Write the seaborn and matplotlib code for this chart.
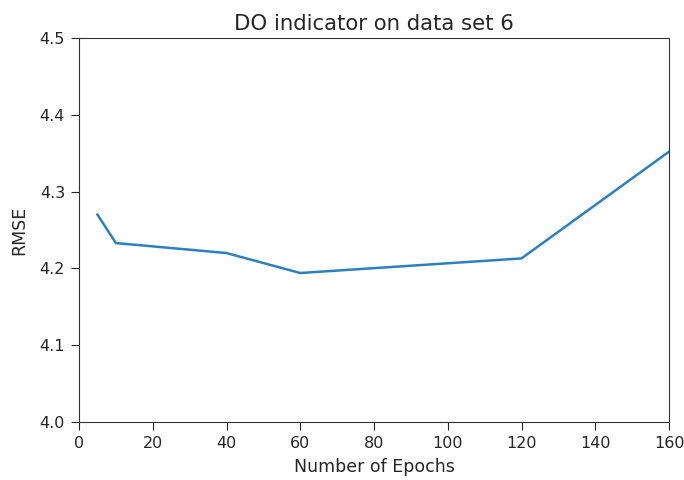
import matplotlib
matplotlib.use("Agg")
import matplotlib.pyplot as plt
import seaborn as sns
import pandas as pd

epochs = [5, 10, 40, 60, 120, 160]
rmse = [4.270, 4.233, 4.220, 4.194, 4.213, 4.352]

df = pd.DataFrame({"epochs": epochs, "rmse": rmse})

text_color = "#262626"
fig = plt.figure(figsize=(6.84, 4.8), dpi=100)
ax = fig.add_axes([79/684, 1-422/480, (669-79)/684, (422-38)/480])
sns.lineplot(data=df, x="epochs", y="rmse", ax=ax, color="#2b80be", linewidth=1.8)
ax.set_xlim(0, 160)
ax.set_ylim(4.0, 4.5)
ax.set_xticks([0, 20, 40, 60, 80, 100, 120, 140, 160])
ax.set_yticks([4.0, 4.1, 4.2, 4.3, 4.4, 4.5])
ax.tick_params(labelsize=11.5, colors=text_color, length=6, pad=4)
for s in ax.spines.values():
    s.set_color("#333333")
ax.set_xlabel("Number of Epochs", fontsize=12.5, color=text_color, labelpad=5)
ax.set_ylabel("RMSE", fontsize=12.5, color=text_color, labelpad=8.5)
ax.set_title("DO indicator on data set 6", fontsize=15.3, color=text_color, pad=6)
fig.savefig("out.png", dpi=100)
